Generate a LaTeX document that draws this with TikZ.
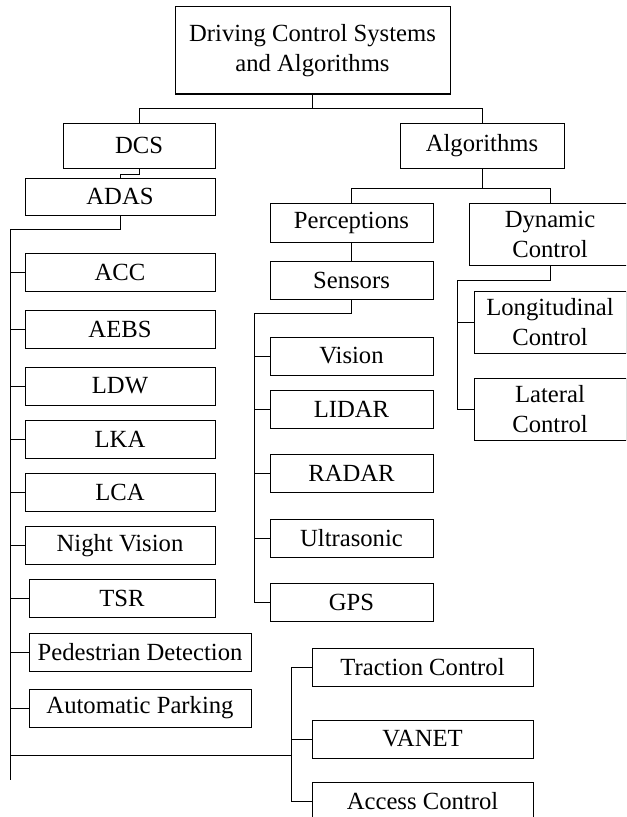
\documentclass[tikz,border=0pt]{standalone}
\usepackage{fontspec}
\setmainfont{Liberation Serif}
\usepackage{tikz}
\usetikzlibrary{positioning, calc}

\begin{document}
\begin{tikzpicture}[
		x=0.75pt, y=-0.75pt,
		line width=0.75pt,
		block/.style = {rectangle, draw, text centered, align=center, inner sep=0pt, font=\fontsize{18.5}{22.5}\selectfont, minimum height=28.5pt},
		head/.style = {block, minimum height=33.75pt},
		twoline/.style = {block, minimum height=46.5pt},
	]
	\useasboundingbox (0,0) rectangle (626,817);
	\clip (0,0) rectangle (626,817);

	\node[block, minimum width=206.25pt, minimum height=65.25pt](root) at (312.5,50.5){Driving Control Systems\\and Algorithms};
	\node[head, minimum width=114pt](dcs) at (139,145.5){DCS};
	\node[head, minimum width=123pt](alg) at (482,145.5){Algorithms};

	% DCS side
	\node[block, minimum width=142.5pt, minimum height=27.75pt](adas) at (120,196.5){ADAS};
	\node[block, minimum width=142.5pt](acc) at (120,272){ACC};
	\node[block, minimum width=142.5pt](aebs) at (120,329.5){AEBS};
	\node[block, minimum width=142.5pt](ldw) at (120,386){LDW};
	\node[block, minimum width=142.5pt](lka) at (120,439.5){LKA};
	\node[block, minimum width=142.5pt](lca) at (120,492){LCA};
	\node[block, minimum width=142.5pt](night) at (120,545.5){Night Vision};
	\node[block, minimum width=139.5pt](tsr) at (122,598){TSR};
	\node[block, minimum width=166.5pt](ped) at (140,652){Pedestrian Detection};
	\node[block, minimum width=166.5pt](park) at (140,708){Automatic Parking};

	\node[block, minimum width=165.75pt](trac) at (422.5,667){Traction Control};
	\node[block, minimum width=165.75pt](vanet) at (422.5,739){VANET};
	\node[block, minimum width=165.75pt](access) at (422.5,801){Access Control};

	% Algorithms side
	\node[block, minimum width=122.25pt, minimum height=29.25pt](perc) at (351.5,222.5){Perceptions};
	\node[block, minimum width=122.25pt](sens) at (351.5,280){Sensors};
	\node[block, minimum width=122.25pt](vision) at (351.5,356){Vision};
	\node[block, minimum width=122.25pt](lidar) at (351.5,409){LIDAR};
	\node[block, minimum width=122.25pt](radar) at (351.5,473){RADAR};
	\node[block, minimum width=122.25pt](ultra) at (351.5,538){Ultrasonic};
	\node[block, minimum width=122.25pt](gps) at (351.5,602){GPS};

	\node[twoline, minimum width=121.5pt](dyn) at (550,234){Dynamic\\Control};
	\node[twoline, minimum width=114pt](lon) at (550,322){Longitudinal\\Control};
	\node[twoline, minimum width=114pt](lat) at (550,409){Lateral\\Control};

	\coordinate(trunkA) at (10,229);
	\coordinate(trunkEnd) at (10,780);
	\coordinate(busL) at (10,755);
	\coordinate(busR) at (291,755);
	\coordinate(trunkS) at (254,313);
	\coordinate(trunkD) at (457,280);

	\draw(root.south)--++(0,14)-|(dcs.north);
	\draw(root.south)--++(0,14)-|(alg.north);
	\draw(dcs.south)--++(0,6)-|(adas.north);
	\draw(adas.south)|-(trunkA)--(trunkEnd);
	\foreach \n in {acc, aebs, ldw, lka, lca, night, tsr, ped, park}
		\draw(trunkA |- \n.west)--(\n.west);

	\draw(busL)--(busR);
	\draw(busR |- trac.west)--(busR |- access.west);
	\foreach \n in {trac, vanet, access}
		\draw(busR |- \n.west)--(\n.west);

	\draw(alg.south)--++(0,20)-|(perc.north);
	\draw(alg.south)--++(0,20)-|(dyn.north);
	\draw(perc.south)--(sens.north);
	\draw(sens.south)|-(trunkS)--(trunkS |- gps.west);
	\foreach \n in {vision, lidar, radar, ultra, gps}
		\draw(trunkS |- \n.west)--(\n.west);

	\draw(dyn.south)|-(trunkD)--(trunkD |- lat.west);
	\foreach \n in {lon, lat}
		\draw(trunkD |- \n.west)--(\n.west);

\end{tikzpicture}
\end{document}
